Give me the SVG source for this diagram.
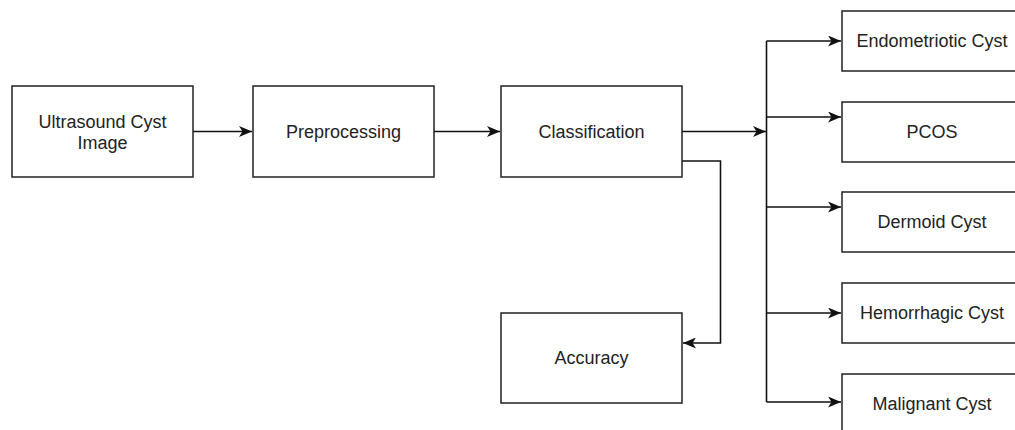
<svg xmlns="http://www.w3.org/2000/svg" width="1015" height="430" viewBox="0 0 1015 430">
<style>
.box{fill:#fff;stroke:#222;stroke-width:1.5}
.lbl{font-family:"Liberation Sans",Arial,sans-serif;font-size:18px;fill:#222;text-anchor:middle}
.edge{fill:none;stroke:#111;stroke-width:1.6}
</style>
<defs>
<marker id="arr" markerUnits="userSpaceOnUse" markerWidth="13" markerHeight="11" viewBox="0 0 13 11" refX="13" refY="5.5" orient="auto">
<path d="M0,0 L13,5.5 L0,11 L3.5,5.5 Z" fill="#111"/>
</marker>
</defs>
<rect width="1015" height="430" fill="#fff"/>
<g id="connectors">
<path class="edge" d="M193,131.5 H252" marker-end="url(#arr)"/>
<path class="edge" d="M434,131.5 H500" marker-end="url(#arr)"/>
<path class="edge" d="M682,131.5 H766" marker-end="url(#arr)"/>
<path class="edge" d="M766.5,41 V402"/>
<path class="edge" d="M766.5,41 H841" marker-end="url(#arr)"/>
<path class="edge" d="M766.5,117 H841" marker-end="url(#arr)"/>
<path class="edge" d="M766.5,207 H841" marker-end="url(#arr)"/>
<path class="edge" d="M766.5,313 H841" marker-end="url(#arr)"/>
<path class="edge" d="M766.5,402 H841" marker-end="url(#arr)"/>
<path class="edge" d="M677,161 H720.5 V343 H683" marker-end="url(#arr)"/>
</g>
<g id="ultrasound">
<rect class="box" x="12" y="86" width="181" height="91"/>
<text class="lbl" x="102.5" y="128">Ultrasound Cyst</text>
<text class="lbl" x="102.5" y="149">Image</text>
</g>
<g id="preprocessing">
<rect class="box" x="253" y="86" width="181" height="91"/>
<text class="lbl" x="343.5" y="138">Preprocessing</text>
</g>
<g id="classification">
<rect class="box" x="501" y="86" width="181" height="91"/>
<text class="lbl" x="591.5" y="138">Classification</text>
</g>
<g id="accuracy">
<rect class="box" x="501" y="313" width="181" height="90"/>
<text class="lbl" x="591.5" y="364">Accuracy</text>
</g>
<g id="endometriotic">
<rect class="box" x="842" y="11" width="181" height="60"/>
<text class="lbl" x="932" y="47">Endometriotic Cyst</text>
</g>
<g id="pcos">
<rect class="box" x="842" y="102" width="181" height="60"/>
<text class="lbl" x="932" y="138">PCOS</text>
</g>
<g id="dermoid">
<rect class="box" x="842" y="192" width="181" height="60"/>
<text class="lbl" x="932" y="228">Dermoid Cyst</text>
</g>
<g id="hemorrhagic">
<rect class="box" x="842" y="283" width="181" height="60"/>
<text class="lbl" x="932" y="319">Hemorrhagic Cyst</text>
</g>
<g id="malignant">
<rect class="box" x="842" y="374" width="181" height="60"/>
<text class="lbl" x="932" y="410">Malignant Cyst</text>
</g>
</svg>
